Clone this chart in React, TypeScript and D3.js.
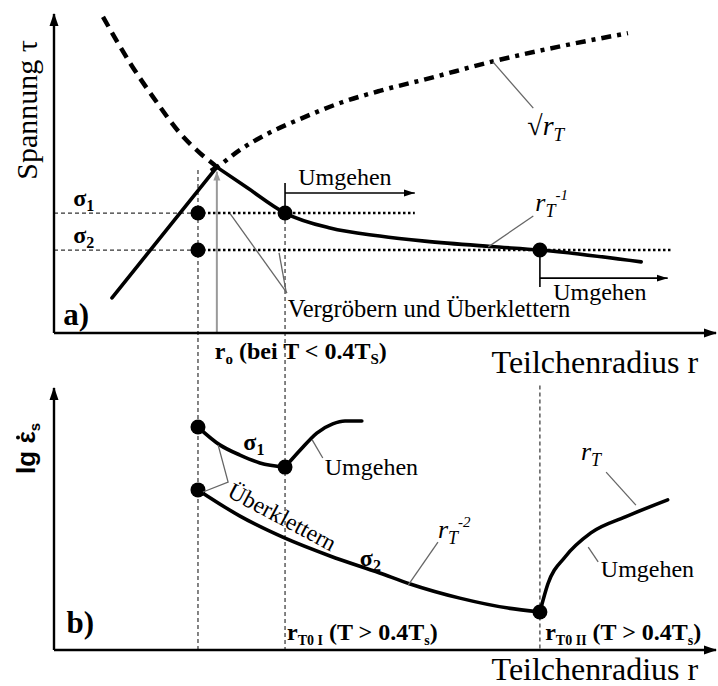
import React from "react";
import * as d3 from "d3";

type Pt = [number, number];

const SERIF = "'Liberation Serif', 'Times New Roman', serif";
const SANS = "'Liberation Sans', Arial, sans-serif";

// characteristic particle radii (arbitrary units, 0..100 along the r axis)
const R_FINE = 21.75;
const R_PEAK = 24.6;
const R_T0_I = 34.9;
const R_T0_II = 73.4;

// stress levels σ1, σ2 (arbitrary units, 0..100)
const SIGMA_LEVELS = [37.6, 26.0];
const SIGMA_NAMES = ["1", "2"];

// a) critical shear stress vs particle radius
const bypassStress: Pt[] = [
  [7.4, 99.1], [11.5, 84.6], [15.6, 72.1], [19.0, 62.7], [22.05, 56.4], [24.6, 52.0], [25.5, 50.2],
];
const cuttingStress: Pt[] = [
  [23.7, 50.8], [24.6, 52.0], [28.1, 57.4], [32.2, 62.4], [37.2, 67.1], [43.2, 72.1],
  [49.2, 75.9], [56.8, 79.9], [66.0, 85.0], [76.1, 89.7], [86.7, 94.0],
];
const effectiveRise: Pt[] = [[8.76, 11.0], [24.6, 52.0]];
const effectiveDecay: Pt[] = [
  [24.6, 52.0], [29.2, 45.5], [34.9, 37.6], [41.7, 32.9], [49.2, 30.4], [56.0, 28.8],
  [66.0, 27.1], [73.4, 26.0], [88.7, 22.3],
];

// b) creep rate (lg) vs particle radius
const rateSigma1Climb: Pt[] = [[21.75, 85.1], [25.1, 78.2], [28.1, 74.4], [31.1, 71.4], [34.9, 69.8]];
const rateSigma1Bypass: Pt[] = [[34.9, 69.8], [37.2, 76.3], [39.7, 82.8], [42.1, 86.3], [43.96, 87.4], [46.5, 87.4]];
const rateSigma2Climb: Pt[] = [
  [21.75, 61.1], [28.1, 51.1], [34.9, 42.7], [41.7, 35.9], [49.2, 29.4], [53.8, 25.2],
  [61.3, 19.8], [68.6, 16.0], [73.4, 14.5],
];
const rateSigma2Bypass: Pt[] = [[73.4, 14.5], [74.6, 25.2], [77.2, 35.5], [81.1, 44.7], [86.3, 50.8], [92.7, 57.3]];

export default function App() {
  const W = 718;
  const H = 686;
  const x = d3.scaleLinear().domain([0, 100]).range([54, 716]);
  const ya = d3.scaleLinear().domain([0, 100]).range([333, 14]);
  const yb = d3.scaleLinear().domain([0, 100]).range([650, 388]);

  const smoothA = d3.line<Pt>().x((d) => x(d[0])).y((d) => ya(d[1])).curve(d3.curveMonotoneX);
  const straightA = d3.line<Pt>().x((d) => x(d[0])).y((d) => ya(d[1]));
  const smoothB = d3.line<Pt>().x((d) => x(d[0])).y((d) => yb(d[1])).curve(d3.curveMonotoneX);

  const leader = { stroke: "#666", strokeWidth: 1.3, fill: "none" } as const;
  const thinDash = { stroke: "#333", strokeWidth: 1.2, strokeDasharray: "4 3" } as const;
  const curve = { stroke: "#000", strokeWidth: 3.6, fill: "none", strokeLinecap: "round" } as const;

  const [s1, s2] = SIGMA_LEVELS;

  return (
    <svg width={W} height={H} style={{ position: "absolute", left: 0, top: 0, background: "#fff" }}>
      <defs>
        <marker id="axisHead" markerUnits="userSpaceOnUse" markerWidth="14" markerHeight="10" refX="12" refY="5" orient="auto">
          <path d="M0,0.5 L13,5 L0,9.5 Z" fill="#000" />
        </marker>
        <marker id="smallHead" markerUnits="userSpaceOnUse" markerWidth="12" markerHeight="8" refX="11" refY="4" orient="auto">
          <path d="M0,0.5 L11,4 L0,7.5 Z" fill="#000" />
        </marker>
        <marker id="grayHead" markerUnits="userSpaceOnUse" markerWidth="10" markerHeight="8" refX="9" refY="4" orient="auto">
          <path d="M0,0.5 L9,4 L0,7.5 Z" fill="#999" />
        </marker>
      </defs>

      {/* vertical guides shared by both panels */}
      <line x1={x(R_FINE)} x2={x(R_FINE)} y1={ya(51.1)} y2={yb(0)} {...thinDash} />
      <line x1={x(R_T0_I)} x2={x(R_T0_I)} y1={ya(s1)} y2={yb(0)} {...thinDash} />
      <line x1={x(R_T0_II)} x2={x(R_T0_II)} y1={yb(101)} y2={yb(0)} {...thinDash} />

      {/* ---------- panel a ---------- */}
      {SIGMA_LEVELS.map((s, i) => (
        <g key={i}>
          <line x1={x(0)} x2={x(R_FINE)} y1={ya(s)} y2={ya(s)} {...thinDash} />
          <line x1={x(R_FINE)} x2={x(i === 0 ? 54.5 : 93.5)} y1={ya(s)} y2={ya(s)}
            stroke="#000" strokeWidth={2.6} strokeDasharray="2.5 2.5" />
          <text x={x(2.9)} y={ya(s) - 7} fontFamily={SERIF} fontWeight="bold" fontSize={24}>
            σ<tspan fontSize={16} dy={5}>{SIGMA_NAMES[i]}</tspan>
          </text>
        </g>
      ))}

      <path d={smoothA(bypassStress) ?? ""} stroke="#000" strokeWidth={4.5} fill="none" strokeDasharray="11 7" />
      <path d={smoothA(cuttingStress) ?? ""} stroke="#000" strokeWidth={4.5} fill="none" strokeDasharray="10 6 4 6" />
      <path d={straightA(effectiveRise) ?? ""} {...curve} />
      <path d={smoothA(effectiveDecay) ?? ""} {...curve} />

      {/* r_o marker */}
      <line x1={x(R_PEAK)} x2={x(R_PEAK)} y1={ya(0)} y2={ya(50.6)} stroke="#999" strokeWidth={2} markerEnd="url(#grayHead)" />

      {/* points on σ1 / σ2 */}
      {[[R_FINE, s1], [R_FINE, s2], [R_T0_I, s1], [R_T0_II, s2]].map(([r, s], i) => (
        <circle key={i} cx={x(r)} cy={ya(s)} r={7.5} fill="#000" />
      ))}

      {/* Umgehen arrows */}
      <line x1={x(R_T0_I)} x2={x(R_T0_I)} y1={ya(s1)} y2={ya(47.0)} stroke="#000" strokeWidth={1.6} />
      <line x1={x(R_T0_I)} x2={x(54.5)} y1={ya(43.9)} y2={ya(43.9)} stroke="#000" strokeWidth={1.6} markerEnd="url(#smallHead)" />
      <text x={x(36.9)} y={ya(46.4)} fontFamily={SERIF} fontSize={24}>Umgehen</text>

      <line x1={x(R_T0_II)} x2={x(R_T0_II)} y1={ya(s2)} y2={ya(14.4)} stroke="#000" strokeWidth={1.6} />
      <line x1={x(R_T0_II)} x2={x(92.7)} y1={ya(17.2)} y2={ya(17.2)} stroke="#000" strokeWidth={1.6} markerEnd="url(#smallHead)" />
      <text x={x(75.4)} y={ya(10.3)} fontFamily={SERIF} fontSize={24}>Umgehen</text>

      {/* Vergröbern und Überklettern */}
      <polyline points={`${x(26.6)},${ya(37.4)} ${x(35.2)},${ya(12.5)}`} {...leader} />
      <polyline points={`${x(34.0)},${ya(25.1)} ${x(35.1)},${ya(12.5)}`} {...leader} />
      <text x={x(35.3)} y={ya(5.0)} fontFamily={SERIF} fontSize={24.5}>Vergröbern und Überklettern</text>

      {/* curve labels */}
      <polyline points={`${x(66.3)},${ya(85.0)} ${x(72.4)},${ya(70.5)}`} {...leader} />
      <text x={x(71.5)} y={ya(62.1)} fontFamily={SERIF} fontSize={28}>
        √<tspan fontStyle="italic">r</tspan><tspan fontStyle="italic" fontSize={19} dy={6}>T</tspan>
      </text>
      <polyline points={`${x(65.6)},${ya(27.0)} ${x(72.4)},${ya(36.7)}`} {...leader} />
      <text x={x(72.7)} y={ya(38.2)} fontFamily={SERIF} fontSize={26} fontStyle="italic">
        r<tspan fontSize={18} dy={6}>T</tspan><tspan fontSize={15} dy={-17}>-1</tspan>
      </text>

      <text x={x(1.4)} y={ya(2.5)} fontFamily={SERIF} fontWeight="bold" fontSize={31}>a)</text>

      {/* axes a */}
      <line x1={x(0)} x2={x(0)} y1={ya(0)} y2={ya(100)} stroke="#000" strokeWidth={2.4} markerEnd="url(#axisHead)" />
      <line x1={x(0)} x2={x(100)} y1={ya(0)} y2={ya(0)} stroke="#000" strokeWidth={2.4} markerEnd="url(#axisHead)" />
      <text transform={`translate(37,${ya(69.9)}) rotate(-90)`} textAnchor="middle" fontFamily={SERIF} fontSize={30}>
        Spannung τ
      </text>
      <text x={x(97.3)} y={ya(-12.4)} textAnchor="end" fontFamily={SERIF} fontSize={32}>Teilchenradius r</text>
      <text x={x(24.3)} y={ya(-8.2)} fontFamily={SERIF} fontWeight="bold" fontSize={24}>
        r<tspan fontSize={15} dy={5}>o</tspan><tspan dy={-5}> (bei T &lt; 0.4T</tspan><tspan fontSize={15} dy={5}>S</tspan><tspan dy={-5}>)</tspan>
      </text>

      {/* ---------- panel b ---------- */}
      <path d={smoothB(rateSigma1Climb) ?? ""} {...curve} />
      <path d={smoothB(rateSigma1Bypass) ?? ""} {...curve} />
      <path d={smoothB(rateSigma2Climb) ?? ""} {...curve} />
      <path d={smoothB(rateSigma2Bypass) ?? ""} {...curve} />
      {[[R_FINE, 85.1], [R_T0_I, 69.8], [R_FINE, 61.1], [R_T0_II, 14.5]].map(([r, v], i) => (
        <circle key={i} cx={x(r)} cy={yb(v)} r={7.5} fill="#000" />
      ))}

      <text x={x(28.6)} y={yb(76.3)} fontFamily={SERIF} fontWeight="bold" fontSize={24}>
        σ<tspan fontSize={16} dy={5}>1</tspan>
      </text>
      <text x={x(46.2)} y={yb(32.1)} fontFamily={SERIF} fontWeight="bold" fontSize={24}>
        σ<tspan fontSize={16} dy={5}>2</tspan>
      </text>

      <polyline points={`${x(39.0)},${yb(80.2)} ${x(40.6)},${yb(73.3)}`} {...leader} />
      <text x={x(40.9)} y={yb(66.8)} fontFamily={SERIF} fontSize={24}>Umgehen</text>

      <polyline points={`${x(24.8)},${yb(78.2)} ${x(26.3)},${yb(64.1)} ${x(22.5)},${yb(60.3)}`} {...leader} />
      <text transform={`translate(${x(26.0)},${yb(58.8)}) rotate(28)`} fontFamily={SERIF} fontSize={23.5}>Überklettern</text>

      <polyline points={`${x(53.5)},${yb(24.8)} ${x(58.0)},${yb(41.2)}`} {...leader} />
      <text x={x(58.0)} y={yb(42.7)} fontFamily={SERIF} fontSize={26} fontStyle="italic">
        r<tspan fontSize={18} dy={6}>T</tspan><tspan fontSize={15} dy={-17}>-2</tspan>
      </text>

      <polyline points={`${x(83.4)},${yb(67.9)} ${x(87.9)},${yb(55.3)}`} {...leader} />
      <text x={x(79.6)} y={yb(72.5)} fontFamily={SERIF} fontSize={26} fontStyle="italic">
        r<tspan fontSize={18} dy={6}>T</tspan>
      </text>

      <polyline points={`${x(80.7)},${yb(39.3)} ${x(82.2)},${yb(33.6)}`} {...leader} />
      <text x={x(82.6)} y={yb(27.9)} fontFamily={SERIF} fontSize={24}>Umgehen</text>

      <text x={x(1.9)} y={yb(6.5)} fontFamily={SERIF} fontWeight="bold" fontSize={31}>b)</text>

      <text x={x(35.2)} y={yb(3.8)} fontFamily={SERIF} fontWeight="bold" fontSize={24}>
        r<tspan fontSize={14} dy={5}>T0 I</tspan><tspan dy={-5}> (T &gt; 0.4T</tspan><tspan fontSize={14} dy={5}>s</tspan><tspan dy={-5}>)</tspan>
      </text>
      <text x={x(74.2)} y={yb(3.8)} fontFamily={SERIF} fontWeight="bold" fontSize={24}>
        r<tspan fontSize={14} dy={5}>T0 II</tspan><tspan dy={-5}> (T &gt; 0.4T</tspan><tspan fontSize={14} dy={5}>s</tspan><tspan dy={-5}>)</tspan>
      </text>

      {/* axes b */}
      <line x1={x(0)} x2={x(0)} y1={yb(0)} y2={yb(100)} stroke="#000" strokeWidth={2.4} markerEnd="url(#axisHead)" />
      <line x1={x(0)} x2={x(100)} y1={yb(0)} y2={yb(0)} stroke="#000" strokeWidth={2.4} markerEnd="url(#axisHead)" />
      <g transform={`translate(35,${yb(67.2)}) rotate(-90)`}>
        <text x={0} y={0} fontFamily={SANS} fontWeight="bold" fontSize={26}>
          lg ε<tspan fontSize={15} dy={5}>s</tspan>
        </text>
        <circle cx={36.5} cy={-17} r={2} fill="#000" />
      </g>
      <text x={x(97.3)} y={yb(-11.5)} textAnchor="end" fontFamily={SERIF} fontSize={32}>Teilchenradius r</text>
    </svg>
  );
}
